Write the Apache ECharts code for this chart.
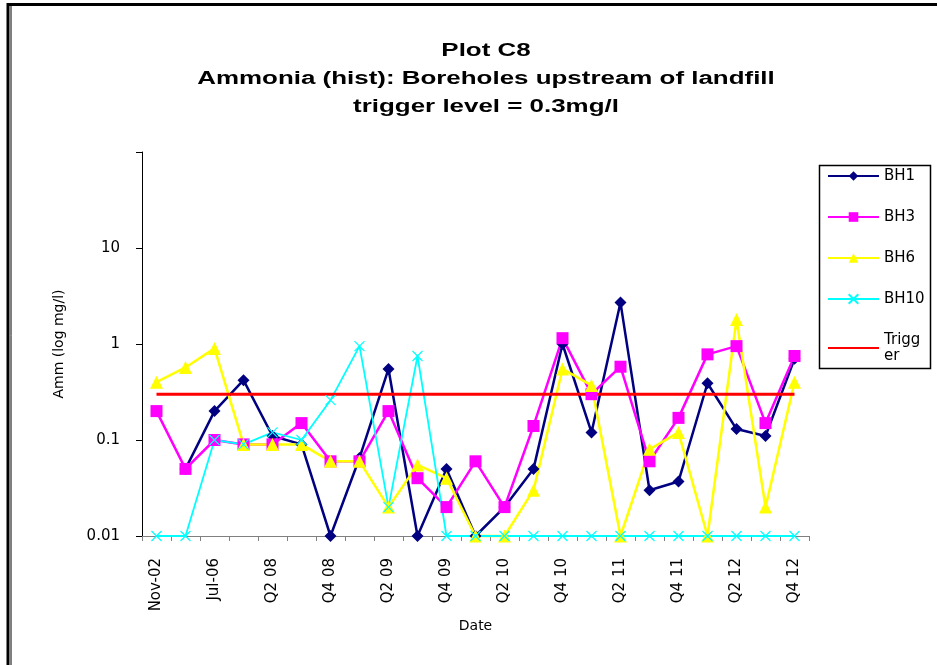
<!DOCTYPE html>
<html>
<head>
<meta charset="utf-8">
<script src="https://cdn.jsdelivr.net/npm/echarts@6/dist/echarts.min.js"></script>
<style>html,body{margin:0;padding:0;background:#fff;}#c{width:937px;height:665px;}</style>
</head>
<body>
<div id="c"></div>
<script>
const categories = ['Nov-02','Mar-06','Jul-06','Q1 08','Q2 08','Q3 08','Q4 08','Q1 09','Q2 09','Q3 09','Q4 09','Q1 10','Q2 10','Q3 10','Q4 10','Q1 11','Q2 11','Q3 11','Q4 11','Q1 12','Q2 12','Q3 12','Q4 12'];
const bh1  = [null,0.05,0.2,0.42,0.11,0.09,0.01,0.065,0.55,0.01,0.05,0.01,0.02,0.05,1.0,0.12,2.7,0.03,0.037,0.39,0.13,0.11,0.7];
const bh3  = [0.2,0.05,0.1,0.09,0.09,0.15,0.06,0.06,0.2,0.04,0.02,0.06,0.02,0.14,1.15,0.3,0.58,0.06,0.17,0.78,0.95,0.15,0.75];
const bh6  = [0.4,0.57,0.9,0.09,0.09,0.09,0.06,0.06,0.02,0.055,0.04,0.01,0.01,0.03,0.55,0.37,0.01,0.08,0.12,0.01,1.8,0.02,0.4];
const bh10 = [0.01,0.01,0.1,0.09,0.12,0.1,0.26,0.95,0.02,0.75,0.01,0.01,0.01,0.01,0.01,0.01,0.01,0.01,0.01,0.01,0.01,0.01,0.01];
const trigger = [0.3,0.3,0.3,0.3,0.3,0.3,0.3,0.3,0.3,0.3,0.3,0.3,0.3,0.3,0.3,0.3,0.3,0.3,0.3,0.3,0.3,0.3,0.3];
const titleLines = ['Plot C8','Ammonia (hist): Boreholes upstream of landfill','trigger level = 0.3mg/l'];
const yTickLabels = ['0.01','0.1','1','10'];

const chart = echarts.init(document.getElementById('c'), null, {renderer:'canvas'});
const F = 'DejaVu Sans';
const titleY = [51.5, 79.5, 107.5];
const option = {
  animation: false,
  backgroundColor: '#ffffff',
  grid: {left: 142, right: 128, top: 152, bottom: 129, containLabel: false},
  legend: {
    orient: 'vertical', left: 827, top: 168, padding: 0,
    itemWidth: 51, itemHeight: 12, itemGap: 25,
    textStyle: {fontFamily: F, fontSize: 15, color: '#000', lineHeight: 16},
    formatter: n => n === 'Trigger' ? 'Trigg\ner' : n,
    data: ['BH1','BH3','BH6','BH10', {name: 'Trigger', itemStyle: {opacity: 0}}]
  },
  xAxis: {
    type: 'category', data: categories, boundaryGap: true,
    name: 'Date', nameLocation: 'middle', nameGap: 78,
    nameTextStyle: {fontFamily: F, fontSize: 14, color: '#000'},
    axisLine: {lineStyle: {color: '#808080', width: 1}},
    axisTick: {show: true, alignWithLabel: false, interval: 0, length: 5, lineStyle: {color: '#808080'}},
    axisLabel: {rotate: 90, interval: 1, margin: 22, fontFamily: F, fontSize: 15, color: '#000'},
    splitLine: {show: false}
  },
  yAxis: {
    type: 'log', logBase: 10, min: 0.01, max: 100,
    name: 'Amm (log mg/l)', nameLocation: 'middle', nameGap: 76,
    nameTextStyle: {fontFamily: F, fontSize: 14, color: '#000'},
    axisLine: {show: true, lineStyle: {color: '#000', width: 1}},
    axisTick: {show: true, length: 6, lineStyle: {color: '#000'}},
    axisLabel: {
      margin: 22, fontFamily: F, fontSize: 15, color: '#000',
      formatter: v => {
        const s = String(parseFloat(Number(v).toPrecision(3)));
        return yTickLabels.indexOf(s) >= 0 ? s : '';
      }
    },
    splitLine: {show: false}
  },
  series: [
    {name: 'BH1', type: 'line', data: bh1, symbol: 'diamond', symbolSize: 12, clip: false,
     lineStyle: {color: '#000080', width: 2.5}, itemStyle: {color: '#000080'}},
    {name: 'BH3', type: 'line', data: bh3, symbol: 'rect', symbolSize: 12, clip: false,
     lineStyle: {color: '#FF00FF', width: 2.5}, itemStyle: {color: '#FF00FF'}},
    {name: 'BH6', type: 'line', data: bh6, symbol: 'triangle', symbolSize: 13, clip: false,
     lineStyle: {color: '#FFFF00', width: 2.5}, itemStyle: {color: '#FFFF00'}},
    {name: 'BH10', type: 'line', data: bh10, symbol: 'path://M0,0L10,10M10,0L0,10', symbolSize: 10, clip: false,
     lineStyle: {color: '#00FFFF', width: 1.8}, itemStyle: {color: 'rgba(0,0,0,0)', borderColor: '#00FFFF', borderWidth: 1.2}},
    {name: 'Trigger', type: 'line', data: trigger, symbol: 'none', clip: false,
     lineStyle: {color: '#FF0000', width: 3}, itemStyle: {color: '#FF0000'}}
  ],
  graphic: [
    {type: 'rect', shape: {x: 8, y: 4.5, width: 1000, height: 1000}, style: {fill: 'none', stroke: '#000', lineWidth: 3}, silent: true},
    {type: 'line', shape: {x1: 11, y1: 6, x2: 11, y2: 665}, style: {stroke: '#000', lineWidth: 1}, silent: true},
    {type: 'rect', shape: {x: 819.5, y: 165.5, width: 111, height: 203}, style: {fill: 'none', stroke: '#000', lineWidth: 1.5}, silent: true},
    ...titleLines.map((t, i) => ({
      type: 'text', x: 486, y: titleY[i], scaleX: 1.44, scaleY: 1, silent: true,
      style: {text: t, x: 0, y: 0, align: 'center', verticalAlign: 'middle',
              font: 'bold 18px "Liberation Sans", Arial, sans-serif', fill: '#000'}
    }))
  ]
};
chart.setOption(option);
</script>
</body>
</html>
